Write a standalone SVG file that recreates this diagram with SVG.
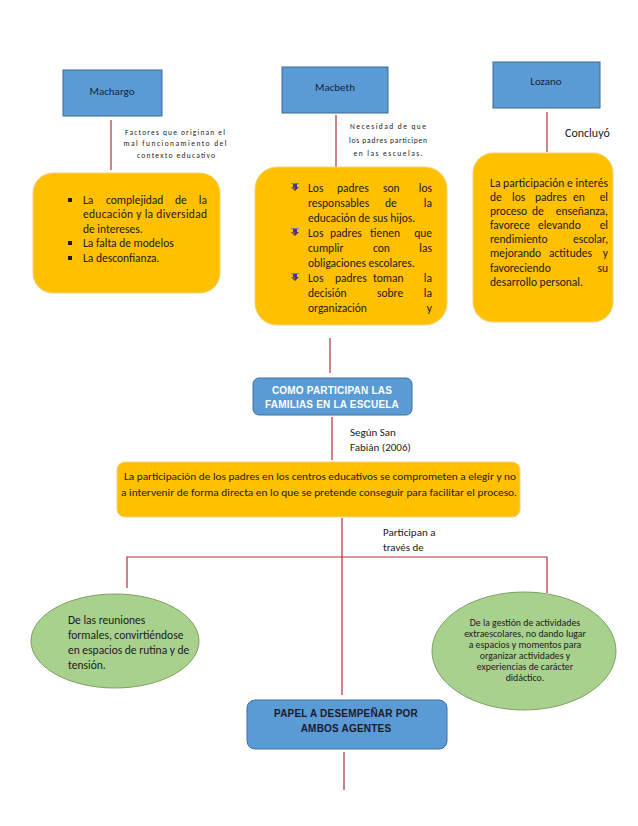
<svg xmlns="http://www.w3.org/2000/svg" width="638" height="826" viewBox="0 0 638 826">
<style>
.t{font-family:Carlito,Lato,"Liberation Sans",sans-serif;fill:#1a1a1a}
.auth{fill:#5B9BD5;stroke:#3A6A96;stroke-width:1}
.auth-t{font-size:11px;fill:#1c1c3c;text-anchor:middle}
.org{fill:#FFC000;stroke:#F2D27A;stroke-width:1}
.b11{font-size:11.5px}
.e{text-anchor:end}
.lbl{font-size:7.5px;text-anchor:middle}
.ttl{fill:#5B9BD5;stroke:#41719C;stroke-width:1}
.ttl-t{font-family:"Liberation Sans",Arial,sans-serif;font-weight:bold;font-size:10px;text-anchor:middle;letter-spacing:0.2px}
.ell{fill:#A9D18E;stroke:#7F9F5F;stroke-width:1}
.con{stroke:#B0303A;stroke-width:1.2;fill:none}
</style>
<defs>
<g id="arr"><rect x="-4" y="-4" width="8" height="1.2" fill="#7a7a9a"/><polygon points="-2,-3 2,-3 2,0 4,0 0,4 -4,0 -2,0" fill="#3a3a8a"/><polygon points="0,4 -4,0 0,0" fill="#c04040"/></g>
</defs>

<g id="connectors">
<line class="con" x1="111" y1="120" x2="111" y2="170"/>
<line class="con" x1="336" y1="115" x2="336" y2="167"/>
<line class="con" x1="547" y1="112" x2="547" y2="152"/>
<line class="con" x1="330" y1="338" x2="330" y2="373"/>
<line class="con" x1="332" y1="417" x2="332" y2="460"/>
<line class="con" x1="342" y1="518" x2="342" y2="695"/>
<polyline class="con" points="127,588 127,557 547,557 547,593"/>
<line class="con" x1="344" y1="752" x2="344" y2="790"/>
</g>

<g id="machargo">
<rect class="auth" x="63" y="70" width="99" height="46"/>
<text class="t auth-t" x="112" y="95">Machargo</text>
</g>
<g id="macbeth">
<rect class="auth" x="282" y="67" width="106" height="46"/>
<text class="t auth-t" x="335" y="91">Macbeth</text>
</g>
<g id="lozano">
<rect class="auth" x="493" y="62" width="107" height="46"/>
<text class="t auth-t" x="546" y="85">Lozano</text>
</g>

<g id="label-machargo" class="t lbl">
<text x="175" y="135" textLength="100" lengthAdjust="spacing">Factores que originan el</text>
<text x="175" y="146" textLength="103" lengthAdjust="spacing">mal funcionamiento del</text>
<text x="176" y="158" textLength="78" lengthAdjust="spacing">contexto educativo</text>
</g>
<g id="label-macbeth" class="t lbl">
<text x="388" y="129" textLength="76" lengthAdjust="spacing">Necesidad de que</text>
<text x="388" y="143" textLength="78" lengthAdjust="spacing">los padres participen</text>
<text x="388" y="156" textLength="69" lengthAdjust="spacing">en las escuelas.</text>
</g>
<g id="label-lozano">
<text class="t" x="565" y="137" font-size="12">Concluyó</text>
</g>

<g id="box-machargo">
<rect class="org" x="33" y="173" width="187" height="120" rx="20"/>
<g fill="#1a1a1a"><rect x="68" y="198" width="4" height="4"/><rect x="68" y="241" width="4" height="4"/><rect x="68" y="256" width="4" height="4"/></g>
<g class="t b11">
<text x="83" y="204">La</text><text x="106" y="204">complejidad</text><text x="175" y="204">de</text><text class="e" x="207" y="204">la</text>
<text x="83" y="218" textLength="124" lengthAdjust="spacing">educación y la diversidad</text>
<text x="83" y="233">de intereses.</text>
<text x="83" y="247">La falta de modelos</text>
<text x="83" y="262">La desconfianza.</text>
</g>
</g>

<g id="box-macbeth">
<rect class="org" x="255" y="167" width="192" height="158" rx="22"/>
<use href="#arr" x="295" y="187"/>
<use href="#arr" x="295" y="232"/>
<use href="#arr" x="295" y="277"/>
<g class="t b11">
<text x="308" y="192">Los</text><text x="337" y="192">padres</text><text x="383" y="192">son</text><text class="e" x="432" y="192">los</text>
<text x="308" y="207">responsables</text><text x="385" y="207">de</text><text class="e" x="432" y="207">la</text>
<text x="308" y="222">educación de sus hijos.</text>
<text x="308" y="237">Los</text><text x="330" y="237">padres</text><text x="370" y="237">tienen</text><text class="e" x="432" y="237">que</text>
<text x="308" y="252">cumplir</text><text x="373" y="252">con</text><text class="e" x="432" y="252">las</text>
<text x="308" y="267">obligaciones escolares.</text>
<text x="308" y="282">Los</text><text x="335" y="282">padres</text><text x="373" y="282">toman</text><text class="e" x="432" y="282">la</text>
<text x="308" y="297">decisión</text><text x="377" y="297">sobre</text><text class="e" x="432" y="297">la</text>
<text x="308" y="312">organización</text><text class="e" x="432" y="312">y</text>
</g>
</g>

<g id="box-lozano">
<rect class="org" x="473" y="153" width="140" height="169" rx="20"/>
<g class="t b11">
<text x="490" y="187" textLength="118" lengthAdjust="spacing">La participación e interés</text>
<text x="490" y="201">de</text><text x="512" y="201">los</text><text x="535" y="201">padres</text><text x="573" y="201">en</text><text class="e" x="608" y="201">el</text>
<text x="490" y="215">proceso</text><text x="532" y="215">de</text><text class="e" x="608" y="215">enseñanza,</text>
<text x="490" y="229">favorece</text><text x="538" y="229">elevando</text><text class="e" x="608" y="229">el</text>
<text x="490" y="243">rendimiento</text><text class="e" x="608" y="243">escolar,</text>
<text x="490" y="257">mejorando</text><text x="549" y="257">actitudes</text><text class="e" x="608" y="257">y</text>
<text x="490" y="272">favoreciendo</text><text class="e" x="608" y="272">su</text>
<text x="490" y="286">desarrollo personal.</text>
</g>
</g>

<g id="como-participan">
<rect class="ttl" x="253" y="378" width="159" height="37" rx="6"/>
<text class="ttl-t" x="332" y="394" fill="#ffffff">COMO PARTICIPAN LAS</text>
<text class="ttl-t" x="332" y="408" fill="#ffffff">FAMILIAS EN LA ESCUELA</text>
</g>

<g id="label-segun" class="t" font-size="11">
<text x="350" y="436">Según San</text>
<text x="350" y="451">Fabián (2006)</text>
</g>

<g id="participacion">
<rect class="org" x="117" y="462" width="403" height="55" rx="8"/>
<g class="t" font-size="11" text-anchor="middle">
<text x="320" y="480" textLength="392" lengthAdjust="spacingAndGlyphs">La participación de los padres en los centros educativos se comprometen a elegir y no</text>
<text x="319" y="496" textLength="396" lengthAdjust="spacingAndGlyphs">a intervenir de forma directa en lo que se pretende conseguir para facilitar el proceso.</text>
</g>
</g>

<g id="label-participan" class="t" font-size="11">
<text x="383" y="536">Participan a</text>
<text x="383" y="551">través de</text>
</g>

<g id="reuniones">
<ellipse class="ell" cx="115" cy="641" rx="84" ry="47"/>
<g class="t" font-size="11.5">
<text x="68" y="624">De las reuniones</text>
<text x="68" y="639">formales, convirtiéndose</text>
<text x="68" y="654">en espacios de rutina y de</text>
<text x="68" y="669">tensión.</text>
</g>
</g>

<g id="gestion">
<ellipse class="ell" cx="524" cy="651" rx="92" ry="59"/>
<g class="t" font-size="9.8" text-anchor="middle">
<text x="525" y="626">De la gestión de actividades</text>
<text x="525" y="637">extraescolares, no dando lugar</text>
<text x="525" y="648">a espacios y momentos para</text>
<text x="525" y="659">organizar actividades y</text>
<text x="525" y="670">experiencias de carácter</text>
<text x="525" y="681">didáctico.</text>
</g>
</g>

<g id="papel">
<rect class="ttl" x="247" y="700" width="200" height="49" rx="8"/>
<text class="ttl-t" x="346" y="717" fill="#1a1a2a">PAPEL A DESEMPEÑAR POR</text>
<text class="ttl-t" x="346" y="732" fill="#1a1a2a">AMBOS AGENTES</text>
</g>
</svg>
